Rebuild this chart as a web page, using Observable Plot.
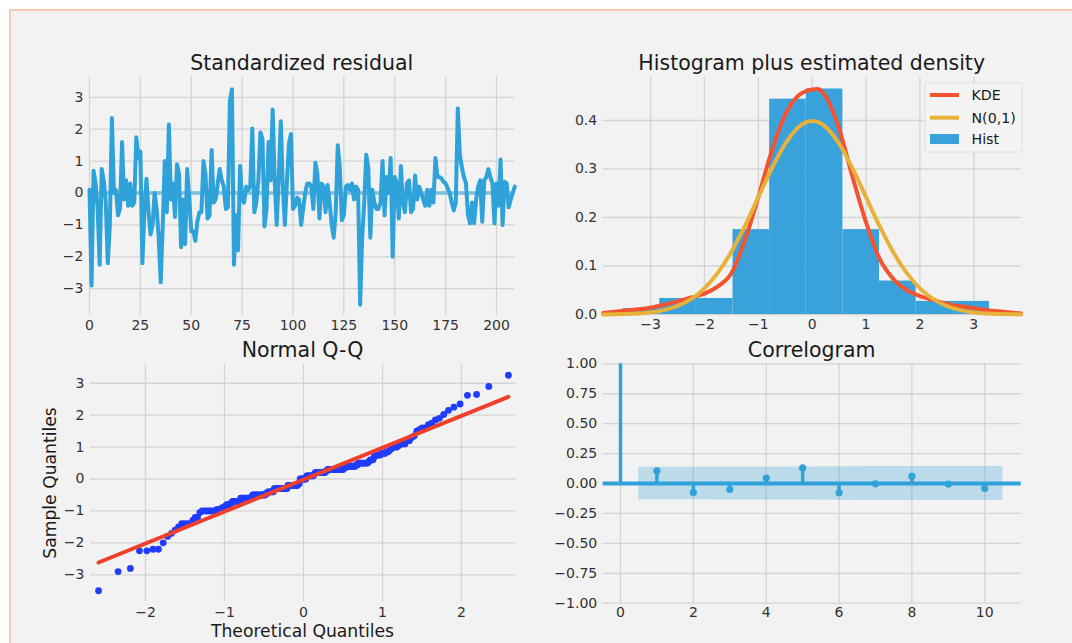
<!DOCTYPE html>
<html>
<head>
<meta charset="utf-8">
<script src="https://cdn.jsdelivr.net/npm/d3@7"></script>
<script src="https://cdn.jsdelivr.net/npm/@observablehq/plot@0.6"></script>
<style>
html,body{margin:0;padding:0;background:#fff;width:1072px;height:643px;overflow:hidden;font-family:"DejaVu Sans",sans-serif;}
#box{position:absolute;left:9px;top:9px;width:1120px;height:700px;border:2px solid #f7c9ae;background:#f2f2f2;box-sizing:border-box;}
.panel{position:absolute;}
.panel svg{display:block;overflow:visible;}
#overlay{position:absolute;left:0;top:0;pointer-events:none;}
</style>
</head>
<body>
<div id="box"></div>
<div class="panel" id="tl" style="left:30px;top:60px"></div>
<div class="panel" id="tr" style="left:560px;top:60px"></div>
<div class="panel" id="bl" style="left:30px;top:345px"></div>
<div class="panel" id="br" style="left:560px;top:345px"></div>
<svg id="overlay" width="1072" height="643" font-family="DejaVu Sans"></svg>
<script>
// ---------- data ----------
const residuals = [
 0.1,-2.9,0.7,0.3,-0.5,-2.25,0.75,0.4,-0.3,-2.2,
 -1.0,2.35,0.0,0.1,-0.7,-0.5,1.6,-0.2,0.4,-0.4,
 0.3,-0.4,-0.3,1.75,1.1,1.3,-2.2,-0.5,0.45,-0.6,
 -1.3,-1.0,0.0,-0.5,-1.4,-2.8,-1.0,1.0,-0.6,2.15,
 -0.2,0.3,-0.75,0.9,0.6,-1.7,-0.2,-1.6,0.75,-0.15,
 -1.2,-1.2,-1.5,-0.9,-0.6,-0.6,1.0,0.6,-0.8,-0.7,
 1.35,-0.3,-0.2,0.3,0.75,0.4,0.2,-0.5,-0.45,2.9,
 3.25,-2.25,-0.7,-1.8,0.85,-0.2,-0.3,0.2,0.1,0.2,
 2.02,-0.6,-0.3,0.4,1.9,1.7,-1.05,-0.5,1.6,0.4,
 2.62,0.4,-1.0,0.5,2.25,0.2,-1.0,0.3,1.55,1.85,
 -0.5,-0.4,-0.15,-0.2,-1.0,-0.5,0.0,0.3,0.3,0.2,
 -0.5,0.95,0.6,-0.8,0.3,0.2,-0.6,0.25,-0.3,-1.0,
 -1.4,-0.6,1.5,0.8,-0.85,-0.7,0.2,0.25,0.1,0.3,
 -0.2,0.2,0.1,-3.5,-1.4,-0.3,1.2,0.8,-1.4,0.1,
 -0.3,-0.5,-0.5,-0.3,1.0,-0.7,0.5,0.0,1.1,-2.0,
 0.5,0.3,-0.8,0.85,-0.3,-0.6,0.3,0.4,-0.6,-0.5,
 0.55,-0.2,0.2,0.0,-0.2,-0.4,0.1,-0.4,0.1,-0.3,
 1.1,0.5,0.5,0.45,0.35,0.3,0.15,0.0,-0.3,-0.55,
 -0.3,2.65,1.2,0.8,0.5,0.3,-0.7,-0.95,-0.3,-0.95,
 -0.2,0.2,0.4,-0.9,0.4,0.5,0.75,0.5,0.3,-0.95,
 0.3,-0.4,1.05,-1.0,0.35,0.3,-0.45,-0.2,0.0,0.2
];
const histEdges = [-3.51,-2.83,-2.15,-1.47,-0.79,-0.11,0.57,1.25,1.93,2.61,3.29];
const histDensity = [0.012,0.033,0.033,0.175,0.444,0.465,0.175,0.069,0.027,0.027];
const kdeX = [-3.88,-3.5,-3.0,-2.75,-2.5,-2.25,-2.0,-1.75,-1.5,-1.25,-1.0,-0.75,-0.5,-0.25,0,0.1,0.25,0.5,0.75,1.0,1.25,1.5,1.75,2.0,2.25,2.5,2.75,3.0,3.25,3.5,3.88];
const kdeY = [0.003,0.008,0.014,0.020,0.027,0.035,0.043,0.058,0.085,0.153,0.242,0.338,0.412,0.452,0.464,0.465,0.45,0.383,0.283,0.19,0.115,0.074,0.051,0.038,0.030,0.022,0.017,0.013,0.009,0.006,0.002];
const normX = [-3.88,-3.5,-3.25,-3.0,-2.75,-2.5,-2.25,-2.0,-1.75,-1.5,-1.25,-1.0,-0.75,-0.5,-0.25,0,0.25,0.5,0.75,1.0,1.25,1.5,1.75,2.0,2.25,2.5,2.75,3.0,3.25,3.5,3.88];
const normY = [0.0002,0.0009,0.0020,0.0044,0.0091,0.0175,0.0317,0.0540,0.0863,0.1295,0.1826,0.2420,0.3011,0.3521,0.3867,0.3989,0.3867,0.3521,0.3011,0.2420,0.1826,0.1295,0.0863,0.0540,0.0317,0.0175,0.0091,0.0044,0.0020,0.0009,0.0002];
const acfLags = [0,1,2,3,4,5,6,7,8,9,10];
const acfValues = [1.0,0.105,-0.075,-0.05,0.045,0.13,-0.078,-0.003,0.06,-0.004,-0.04];
const bandX = [0.5,2,3,4,5,6,7,8,9,10.5];
const bandHalf = [0.135,0.136,0.137,0.137,0.138,0.140,0.141,0.141,0.141,0.141];

const residTicksX = [0,25,50,75,100,125,150,175,200];
const residTicksY = [-3,-2,-1,0,1,2,3];
const histTicksX = [-3,-2,-1,0,1,2,3];
const histTicksY = [0,0.1,0.2,0.3,0.4];
const qqTicksX = [-2,-1,0,1,2];
const qqTicksY = [-3,-2,-1,0,1,2,3];
const acfTicksX = [0,2,4,6,8,10];
const acfTicksY = [-1,-0.75,-0.5,-0.25,0,0.25,0.5,0.75,1];

const titles = ["Standardized residual","Histogram plus estimated density","Normal Q-Q","Correlogram"];
const legendLabels = ["KDE","N(0,1)","Hist"];

// ---------- styles ----------
const C0 = "#30a2da", C1 = "#f5522f", C2 = "#e8b23a";
const gridStyle = {stroke:"#d4d4d4", strokeOpacity:1, strokeWidth:1.3};
const axisStyle = {tickSize:0, label:null, fontSize:14, fill:"#333"};
const baseStyle = {background:"transparent", fontFamily:"DejaVu Sans", fontSize:"14px", color:"#333", overflow:"visible"};
const fmt = d3.format("");
const fmt1 = d3.format(".1f");
const fmt2 = d3.format(".2f");

// ---------- panel 1: standardized residual ----------
const p1 = Plot.plot({
  width:500, height:280, marginLeft:59, marginRight:15.7, marginTop:16.4, marginBottom:25,
  style:baseStyle,
  x:{domain:[0,209]}, y:{domain:[-3.84,3.64]},
  marks:[
    Plot.gridX(residTicksX, gridStyle),
    Plot.gridY(residTicksY, gridStyle),
    Plot.axisX(residTicksX, {...axisStyle, tickPadding:5, tickFormat:fmt}),
    Plot.axisY(residTicksY, {...axisStyle, tickPadding:6, tickFormat:fmt}),
    Plot.lineY(residuals, {stroke:C0, strokeWidth:4}),
    Plot.ruleY([0], {x1:0, x2:209, stroke:C0, strokeOpacity:0.5, strokeWidth:4})
  ]
});
document.getElementById("tl").append(p1);

// ---------- panel 2: histogram + density ----------
const bins = histDensity.map((d,i)=>({x1:histEdges[i], x2:histEdges[i+1], d}));
const kde = kdeX.map((x,i)=>({x, y:kdeY[i]}));
const norm = normX.map((x,i)=>({x, y:normY[i]}));
const p2 = Plot.plot({
  width:500, height:280, marginLeft:42.7, marginRight:39.3, marginTop:17, marginBottom:26,
  style:baseStyle,
  x:{domain:[-3.88,3.88]}, y:{domain:[0,0.4887]},
  marks:[
    Plot.gridX(histTicksX, gridStyle),
    Plot.gridY(histTicksY, gridStyle),
    Plot.axisX(histTicksX, {...axisStyle, tickPadding:5, tickFormat:fmt}),
    Plot.axisY(histTicksY, {...axisStyle, tickPadding:6, tickFormat:fmt1}),
    Plot.rectY(bins, {x1:"x1", x2:"x2", y1:0, y2:"d", fill:"#3aa2db"}),
    Plot.line(kde, {x:"x", y:"y", stroke:C1, strokeWidth:4, curve:"monotone-x"}),
    Plot.line(norm, {x:"x", y:"y", stroke:C2, strokeWidth:4, curve:"monotone-x"})
  ]
});
document.getElementById("tr").append(p2);

// ---------- panel 3: normal Q-Q ----------
function invNorm(p){
  const a=[-3.969683028665376e+01,2.209460984245205e+02,-2.759285104469687e+02,1.383577518672690e+02,-3.066479806614716e+01,2.506628277459239e+00];
  const b=[-5.447609879822406e+01,1.615858368580409e+02,-1.556989798598866e+02,6.680131188771972e+01,-1.328068155288572e+01];
  const c=[-7.784894002430293e-03,-3.223964580411365e-01,-2.400758277161838e+00,-2.549671010115381e+00,4.374664141464968e+00,2.938163982698783e+00];
  const d=[7.784695709041462e-03,3.224671290700398e-01,2.445134137142996e+00,3.754408661907416e+00];
  const pl=0.02425; let q,r;
  if(p<pl){q=Math.sqrt(-2*Math.log(p));return (((((c[0]*q+c[1])*q+c[2])*q+c[3])*q+c[4])*q+c[5])/((((d[0]*q+d[1])*q+d[2])*q+d[3])*q+1);}
  if(p<=1-pl){q=p-0.5;r=q*q;return (((((a[0]*r+a[1])*r+a[2])*r+a[3])*r+a[4])*r+a[5])*q/(((((b[0]*r+b[1])*r+b[2])*r+b[3])*r+b[4])*r+1);}
  q=Math.sqrt(-2*Math.log(1-p));return -(((((c[0]*q+c[1])*q+c[2])*q+c[3])*q+c[4])*q+c[5])/((((d[0]*q+d[1])*q+d[2])*q+d[3])*q+1);
}
const sorted = residuals.slice().sort((a,b)=>a-b);
const n = sorted.length;
const qq = sorted.map((s,i)=>({t:invNorm((i+1)/(n+1)), s}));
const mu = d3.mean(residuals), sd = d3.deviation(residuals);
const tExt = d3.extent(qq, d=>d.t);
const qqLine = tExt.map(t=>({t, s:mu+sd*t}));
const p3 = Plot.plot({
  width:500, height:290, marginLeft:60, marginRight:15, marginTop:18.9, marginBottom:33.9,
  style:baseStyle,
  x:{domain:[-2.696,2.684]}, y:{domain:[-3.84,3.59]},
  marks:[
    Plot.gridX(qqTicksX, gridStyle),
    Plot.gridY(qqTicksY, gridStyle),
    Plot.axisX(qqTicksX, {...axisStyle, tickPadding:5, tickFormat:fmt}),
    Plot.axisY(qqTicksY, {...axisStyle, tickPadding:6, tickFormat:fmt}),
    Plot.dot(qq, {x:"t", y:"s", r:3.4, fill:"#1f3cff", stroke:null}),
    Plot.line(qqLine, {x:"t", y:"s", stroke:"#f0402a", strokeWidth:4})
  ]
});
document.getElementById("bl").append(p3);

// ---------- panel 4: correlogram ----------
const acf = acfLags.map((lag,i)=>({lag, v:acfValues[i]}));
const band = bandX.map((x,i)=>({x, lo:-bandHalf[i], hi:bandHalf[i]}));
const p4 = Plot.plot({
  width:500, height:290, marginLeft:42.7, marginRight:39.3, marginTop:18.3, marginBottom:32.3,
  style:baseStyle,
  x:{domain:[-0.475,11.0]}, y:{domain:[-1,1]},
  marks:[
    Plot.gridX(acfTicksX, gridStyle),
    Plot.gridY(acfTicksY, gridStyle),
    Plot.axisX(acfTicksX, {...axisStyle, tickPadding:4, tickFormat:fmt}),
    Plot.axisY(acfTicksY, {...axisStyle, tickPadding:6, tickFormat:fmt2}),
    Plot.areaY(band, {x:"x", y1:"lo", y2:"hi", fill:C0, fillOpacity:0.28}),
    Plot.ruleX(acf, {x:"lag", y1:0, y2:"v", stroke:C0, strokeWidth:3.5}),
    Plot.ruleY([0], {stroke:C0, strokeWidth:4}),
    Plot.dot(acf.filter(d=>d.lag>0), {x:"lag", y:"v", r:3.6, fill:C0, stroke:null})
  ]
});
document.getElementById("br").append(p4);

// ---------- titles, axis labels, legend ----------
const ov = d3.select("#overlay");
const titlePos = [[301.7,70],[811.7,70],[302.5,357],[811.7,357]];
titles.forEach((t,i)=>{
  ov.append("text").attr("x",titlePos[i][0]).attr("y",titlePos[i][1])
    .attr("text-anchor","middle").attr("font-size",20.5).attr("fill","#1a1a1a").text(t);
});
ov.append("text").attr("x",302.5).attr("y",636.5).attr("text-anchor","middle")
  .attr("font-size",17.2).attr("fill","#1a1a1a").text("Theoretical Quantiles");
ov.append("text").attr("transform","translate(56,483) rotate(-90)").attr("text-anchor","middle")
  .attr("font-size",17.2).attr("fill","#1a1a1a").text("Sample Quantiles");
const lg = ov.append("g");
lg.append("rect").attr("x",925).attr("y",83).attr("width",97).attr("height",69).attr("rx",3)
  .attr("fill","#f4f4f4").attr("fill-opacity",0.85).attr("stroke","#dedede").attr("stroke-width",1);
const legendColors = [C1,C2,"#3aa2db"];
const rowY = [95,117.7,139];
legendLabels.forEach((lab,i)=>{
  if(i<2){
    lg.append("line").attr("x1",930).attr("x2",959).attr("y1",rowY[i]).attr("y2",rowY[i])
      .attr("stroke",legendColors[i]).attr("stroke-width",4);
  } else {
    lg.append("rect").attr("x",930).attr("y",rowY[i]-5).attr("width",29).attr("height",10).attr("fill",legendColors[i]);
  }
  lg.append("text").attr("x",971.5).attr("y",rowY[i]+5).attr("font-size",14.2).attr("fill","#1a1a1a").text(lab);
});
</script>
</body>
</html>
